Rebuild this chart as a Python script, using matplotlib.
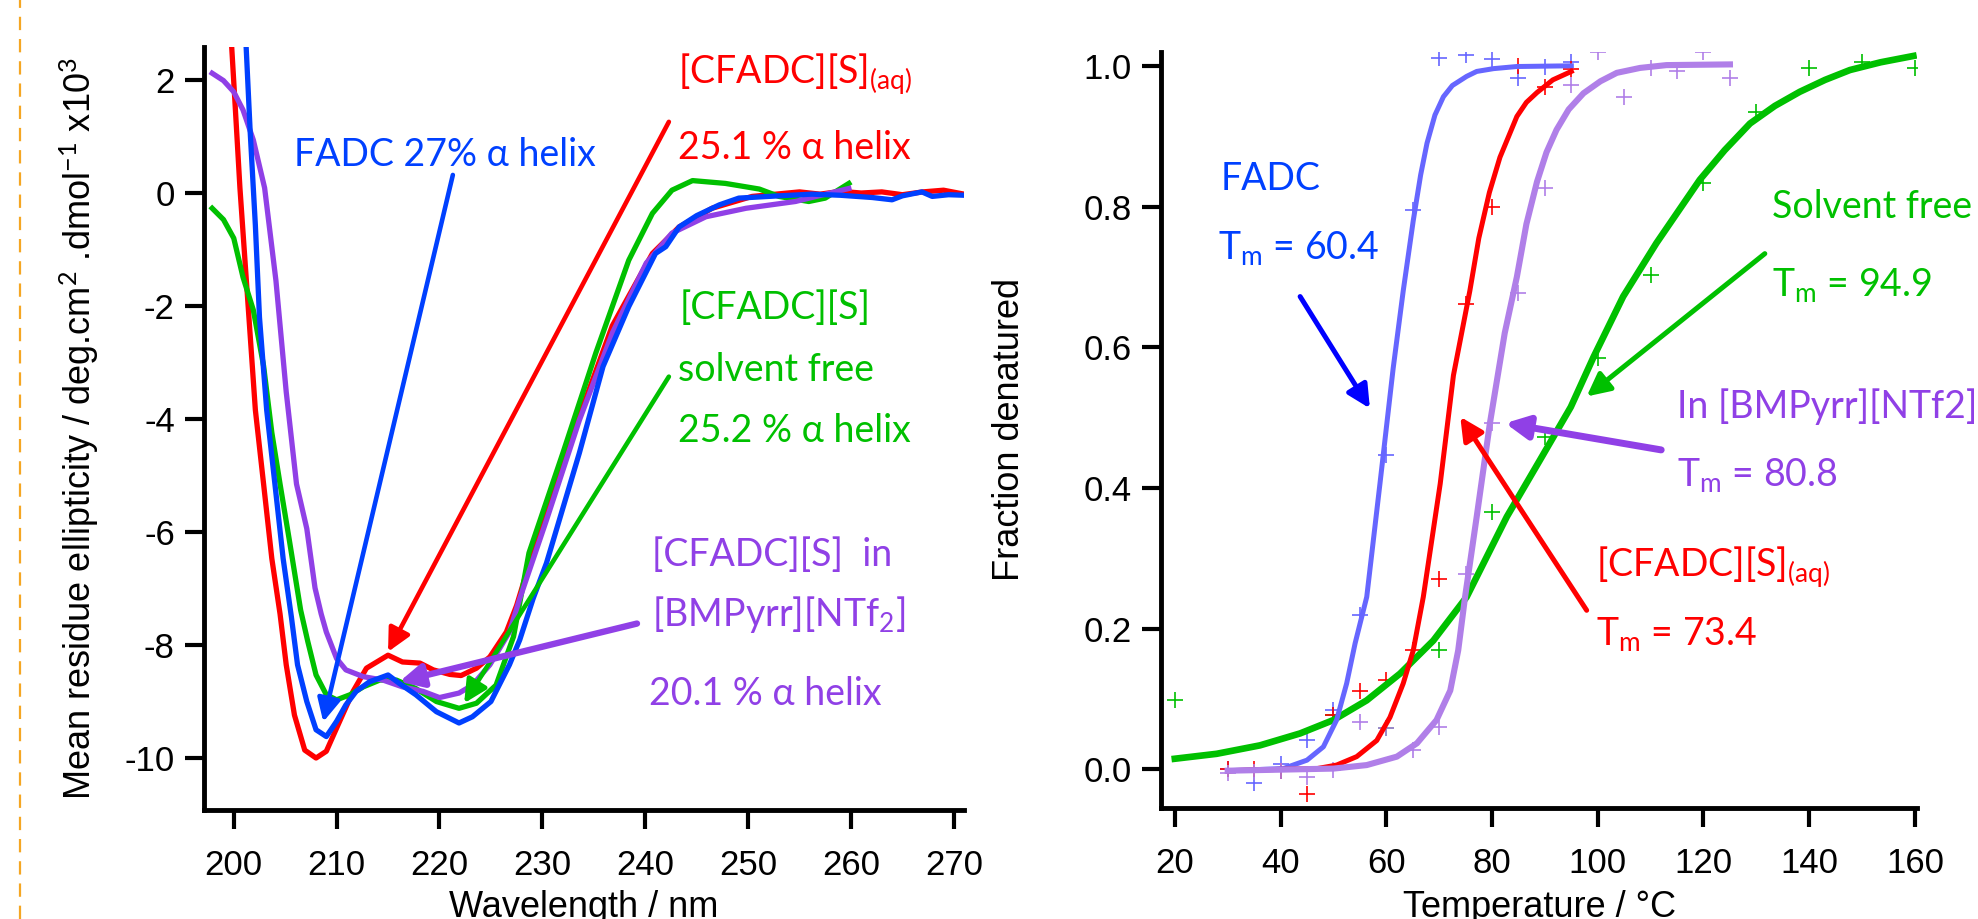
import matplotlib
matplotlib.use("Agg")
from matplotlib import pyplot as plt
from matplotlib.lines import Line2D

plt.rcParams['font.family'] = ['Liberation Sans', 'DejaVu Sans']
plt.rcParams['axes.unicode_minus'] = False
plt.rcParams['mathtext.fontset'] = 'custom'
plt.rcParams['mathtext.rm'] = 'Lato'
plt.rcParams['mathtext.it'] = 'Lato:italic'
plt.rcParams['mathtext.bf'] = 'Lato:bold'

# ---- CD spectra (left) : wavelength / nm , ellipticity x10^3 ----
wl_red = [199.6, 200.1, 200.6, 201.1, 201.6, 202.1, 202.9, 203.7, 204.5, 205.1, 205.9, 206.9,
          208.0, 209.0, 210.0, 211.6, 212.9, 215.0, 216.4, 218.1, 219.4, 221.0, 222.1, 223.6,
          224.9, 226.5, 227.5, 228.5, 230.4, 233.6, 236.8, 240.7, 243.3, 246.5, 250.4, 255.0,
          257.0, 259.0, 261.0, 263.0, 265.0, 267.0, 269.0, 271.0]
cd_red = [3.2, 1.66, 0.09, -1.22, -2.53, -3.84, -5.15, -6.47, -7.45, -8.35, -9.24, -9.86,
          -10.0, -9.88, -9.47, -8.82, -8.41, -8.18, -8.30, -8.32, -8.44, -8.52, -8.54, -8.41,
          -8.21, -7.77, -7.30, -6.70, -5.70, -3.95, -2.35, -1.07, -0.60, -0.27, -0.06, 0.02,
          -0.02, 0.03, 0.0, 0.02, -0.03, 0.02, 0.05, -0.02]

wl_blue = [201.0, 201.2, 201.6, 202.1, 202.5, 203.2, 204.0, 204.8, 205.6, 206.2, 207.1, 208.0,
           209.0, 210.0, 210.9, 211.9, 213.2, 215.0, 216.1, 217.7, 219.7, 221.9, 223.2, 225.0,
           226.8, 227.8, 229.1, 230.4, 233.6, 235.9, 238.4, 241.0, 242.0, 243.3, 245.0, 247.2,
           249.1, 253.0, 256.2, 259.0, 262.1, 264.0, 265.0, 266.9, 267.9, 269.5, 271.1]
cd_blue = [3.6, 2.6, 1.07, -0.57, -2.2, -3.84, -5.15, -6.47, -7.5, -8.35, -9.0, -9.5,
           -9.62, -9.35, -9.06, -8.82, -8.65, -8.53, -8.68, -8.88, -9.18, -9.38, -9.27, -9.0,
           -8.35, -7.91, -7.18, -6.55, -4.6, -3.07, -2.01, -1.07, -0.95, -0.6, -0.4, -0.21,
           -0.09, -0.05, -0.02, -0.04, -0.08, -0.12, -0.05, 0.02, -0.06, -0.03, -0.04]

wl_green = [197.9, 199.0, 200.0, 200.9, 201.9, 202.9, 203.7, 204.5, 205.4, 206.5, 207.2, 208.0,
            209.0, 210.0, 211.3, 212.6, 214.2, 215.8, 217.7, 219.7, 221.9, 223.6, 225.5, 227.2,
            228.7, 232.0, 235.2, 238.4, 240.7, 242.6, 244.6, 247.8, 251.1, 253.0, 255.9, 257.5,
            259.8]
cd_green = [-0.27, -0.47, -0.80, -1.49, -2.07, -3.06, -4.24, -5.15, -6.14, -7.38, -7.94, -8.53,
            -8.88, -8.97, -8.88, -8.74, -8.62, -8.62, -8.77, -9.00, -9.12, -9.03, -8.71, -7.85,
            -6.37, -4.6, -2.83, -1.19, -0.36, 0.05, 0.22, 0.17, 0.07, -0.06, -0.15, -0.09,
            0.17]

wl_purple = [197.9, 199.0, 200.0, 200.9, 201.9, 203.0, 204.1, 205.1, 206.1, 207.1, 207.9, 208.5,
             209.0, 210.0, 210.9, 212.6, 214.5, 216.4, 218.4, 220.0, 221.9, 223.2, 224.9, 226.8,
             227.8, 230.4, 233.6, 236.8, 240.1, 242.6, 245.9, 249.8, 254.6, 259.8]
cd_purple = [2.12, 1.99, 1.79, 1.47, 0.94, 0.09, -1.55, -3.52, -5.15, -5.94, -6.99, -7.45,
             -7.77, -8.24, -8.44, -8.56, -8.62, -8.74, -8.82, -8.93, -8.85, -8.71, -8.35, -7.77,
             -7.18, -5.79, -4.02, -2.48, -1.24, -0.71, -0.42, -0.27, -0.15, 0.08]

# ---- thermal denaturation (right) : measured points ----
t_blue = [30, 35, 40, 45, 50, 55, 60, 65, 70, 75, 80, 85, 90, 95]
f_blue = [0.001, -0.02, 0.008, 0.041, 0.084, 0.22, 0.447, 0.795, 1.011, 1.016, 1.009, 0.982, 0.999, 1.005]
t_red = [30, 35, 40, 45, 50, 55, 60, 65, 70, 75, 80, 85, 90, 95]
f_red = [0.0, 0.0, -0.002, -0.035, 0.077, 0.112, 0.127, 0.169, 0.271, 0.662, 0.80, 1.0, 0.97, 0.995]
t_purple = [30, 35, 40, 45, 50, 55, 60, 65, 70, 75, 80, 85, 90, 95, 100, 105, 110, 115, 120, 125]
f_purple = [-0.005, -0.004, -0.003, -0.011, -0.001, 0.067, 0.058, 0.027, 0.06, 0.278, 0.492, 0.677,
            0.826, 0.973, 1.02, 0.956, 0.997, 0.992, 1.02, 0.982]
t_green = [20, 40, 50, 60, 70, 80, 90, 100, 110, 120, 130, 140, 150, 160]
f_green = [0.098, -0.003, 0.077, 0.058, 0.169, 0.366, 0.473, 0.584, 0.703, 0.833, 0.935, 0.997, 1.006, 0.997]

# fitted curves
fit_t_blue = [30, 40.5, 45, 48.1, 50.6, 52.5, 54.1, 56.3, 58.8, 61.3, 63.2, 65.1, 66.5, 67.7,
              69.2, 70.8, 72.5, 75.2, 77.1, 80.3, 84.7, 95.0]
fit_f_blue = [-0.002, 0.001, 0.013, 0.032, 0.07, 0.122, 0.179, 0.245, 0.406, 0.57, 0.68, 0.78,
              0.845, 0.89, 0.93, 0.956, 0.972, 0.985, 0.992, 0.996, 0.999, 1.0]
fit_t_red = [30, 40.5, 46.9, 50.6, 54.4, 58.2, 60.7, 63.2, 65.1, 67.0, 70.2, 72.7, 75.8, 77.5,
             79.5, 81.5, 84.7, 86.5, 88.5, 91.5, 95.0]
fit_f_red = [-0.002, 0.0, 0.001, 0.006, 0.018, 0.041, 0.074, 0.122, 0.169, 0.245, 0.406, 0.56,
             0.68, 0.755, 0.82, 0.87, 0.928, 0.948, 0.962, 0.98, 0.992]
fit_t_purple = [30, 50, 56.3, 62.0, 65.8, 69.5, 72.1, 73.6, 74.9, 77.1, 79.6, 82.4, 84.7, 86.5,
                88.5, 90.3, 92.2, 94.5, 97.3, 100.5, 103.6, 108.0, 113.0, 125.0]
fit_f_purple = [-0.002, 0.001, 0.006, 0.018, 0.037, 0.07, 0.112, 0.169, 0.245, 0.359, 0.492, 0.62,
                0.70, 0.775, 0.835, 0.877, 0.909, 0.938, 0.961, 0.978, 0.99, 0.997, 1.001, 1.002]
fit_t_green = [20, 27.9, 36.1, 43.7, 50, 56.3, 62.6, 68.9, 75.2, 82.8, 89.1, 94.9, 99.2, 104.8,
               111.1, 119.3, 124.0, 128.8, 133.5, 138.2, 143.0, 147.7, 153.5, 159.7]
fit_f_green = [0.015, 0.022, 0.034, 0.051, 0.07, 0.098, 0.136, 0.183, 0.245, 0.359, 0.44, 0.515,
               0.586, 0.672, 0.748, 0.838, 0.88, 0.918, 0.943, 0.963, 0.98, 0.994, 1.005, 1.014]

RED = '#FF0000'
BLUE = '#0040FF'
GREEN = '#00C000'
PURPLE = '#9040E6'
LBLUE = '#6666FF'
LPURPLE = '#B07FE8'
ANN = ['Lato', 'DejaVu Sans']
FS = 27

fig = plt.figure(figsize=(19.78, 9.19), dpi=100)
ax1 = fig.add_axes([0.1031, 0.1186, 0.3843, 0.8306])
ax2 = fig.add_axes([0.587, 0.1208, 0.3822, 0.8229])

# orange dashed separator on the far left
fig.add_artist(Line2D([0.0101, 0.0101], [0, 1], transform=fig.transFigure,
                      color='#F5A623', lw=1.6, dashes=(6, 4)))

for ax in (ax1, ax2):
    for s in ('top', 'right'):
        ax.spines[s].set_visible(False)
    for s in ('left', 'bottom'):
        ax.spines[s].set_linewidth(3.5)
    ax.tick_params(axis='both', direction='out', length=14, width=3, labelsize=25)
    ax.tick_params(axis='y', pad=7)
    ax.tick_params(axis='x', pad=14)

# ---- left panel ----
lw = 3.8
ax1.plot(wl_red, cd_red, color=RED, lw=lw)
ax1.plot(wl_green, cd_green, color=GREEN, lw=lw)
ax1.plot(wl_purple, cd_purple, color=PURPLE, lw=lw)
ax1.plot(wl_blue, cd_blue, color=BLUE, lw=lw)
ax1.set_xlim(197.1, 271.0)
ax1.set_ylim(-10.92, 2.59)
ax1.set_xticks(range(200, 271, 10))
ax1.set_yticks([2, 0, -2, -4, -6, -8, -10])
ax1.set_xlabel('Wavelength / nm', fontsize=26)
ax1.set_ylabel(r'Mean residue ellipticity / deg.cm$^{2}$ .dmol$^{-1}$ x10$^{3}$', fontsize=26)
ax1.xaxis.set_label_coords(0.5, -0.105)
ax1.yaxis.set_label_coords(-0.135, 0.5)

def arrow(ax, tip, start, color, lw=3.3, ms=23):
    ax.annotate('', xy=tip, xytext=start,
                arrowprops=dict(arrowstyle='-|>,head_length=0.6,head_width=0.3', color=color,
                                lw=lw, mutation_scale=ms, shrinkA=0, shrinkB=0))

arrow(ax1, (208.7, -9.36), (221.3, 0.32), BLUE)
arrow(ax1, (215.0, -8.12), (242.3, 1.26), RED)
arrow(ax1, (222.4, -9.03), (242.3, -3.25), GREEN)
arrow(ax1, (216.1, -8.65), (239.2, -7.62), PURPLE, lw=4.6)

ax1.text(205.9, 0.68, 'FADC 27% α helix', color=BLUE, fontsize=FS, family=ANN, va='center')
ax1.text(243.2, 1.93, r'[CFADC][S]$_\mathrm{(aq)}$', color=RED, fontsize=FS, family=ANN, va='baseline')
ax1.text(243.2, 0.60, '25.1 % α helix', color=RED, fontsize=FS, family=ANN, va='baseline')
ax1.text(243.3, -2.23, '[CFADC][S]', color=GREEN, fontsize=FS, family=ANN, va='baseline')
ax1.text(243.2, -3.32, 'solvent free', color=GREEN, fontsize=FS, family=ANN, va='baseline')
ax1.text(243.2, -4.41, '25.2 % α helix', color=GREEN, fontsize=FS, family=ANN, va='baseline')
ax1.text(240.7, -6.60, '[CFADC][S]  in', color=PURPLE, fontsize=FS, family=ANN, va='baseline')
ax1.text(240.7, -7.66, r'[BMPyrr][NTf$_\mathrm{2}$]', color=PURPLE, fontsize=FS, family=ANN, va='baseline')
ax1.text(240.4, -9.07, '20.1 % α helix', color=PURPLE, fontsize=FS, family=ANN, va='baseline')

# ---- right panel ----
mk = dict(ls='none', marker='+', markersize=12, mew=1.2)
ax2.plot(t_green, f_green, color=GREEN, **mk)
ax2.plot(t_blue, f_blue, color=LBLUE, **mk)
ax2.plot(t_red, f_red, color=RED, **mk)
ax2.plot(t_purple, f_purple, color=LPURPLE, **mk)
ax2.plot(fit_t_green, fit_f_green, color=GREEN, lw=4.8)
ax2.plot(fit_t_blue, fit_f_blue, color=LBLUE, lw=3.6)
ax2.plot(fit_t_red, fit_f_red, color=RED, lw=3.6)
ax2.plot(fit_t_purple, fit_f_purple, color=LPURPLE, lw=4.4)
ax2.set_xlim(17.4, 160.4)
ax2.set_ylim(-0.055, 1.02)
ax2.set_xticks(range(20, 161, 20))
ax2.set_yticks([0.0, 0.2, 0.4, 0.6, 0.8, 1.0])
ax2.set_yticklabels(['0.0', '0.2', '0.4', '0.6', '0.8', '1.0'])
ax2.set_xlabel('Temperature / °C', fontsize=26)
ax2.set_ylabel('Fraction denatured', fontsize=26)
ax2.xaxis.set_label_coords(0.5, -0.108)
ax2.yaxis.set_label_coords(-0.177, 0.5)

arrow(ax2, (56.9, 0.513), (43.7, 0.672), '#0000FF', lw=3.6)
arrow(ax2, (97.9, 0.530), (131.6, 0.733), GREEN, lw=3.6)
arrow(ax2, (82.5, 0.492), (112.0, 0.454), PURPLE, lw=5.0)
arrow(ax2, (74.0, 0.501), (97.9, 0.226), RED, lw=3.6)

ax2.text(28.6, 0.823, 'FADC', color=BLUE, fontsize=FS, family=ANN, va='baseline')
ax2.text(28.2, 0.725, r'T$_\mathrm{m}$ = 60.4', color=BLUE, fontsize=FS, family=ANN, va='baseline')
ax2.text(132.9, 0.783, 'Solvent free', color=GREEN, fontsize=FS, family=ANN, va='baseline')
ax2.text(132.9, 0.673, r'T$_\mathrm{m}$ = 94.9', color=GREEN, fontsize=FS, family=ANN, va='baseline')
ax2.text(114.9, 0.499, 'In [BMPyrr][NTf2]', color=PURPLE, fontsize=FS, family=ANN, va='baseline')
ax2.text(114.9, 0.402, r'T$_\mathrm{m}$ = 80.8', color=PURPLE, fontsize=FS, family=ANN, va='baseline')
ax2.text(99.7, 0.274, r'[CFADC][S]$_\mathrm{(aq)}$', color=RED, fontsize=FS, family=ANN, va='baseline')
ax2.text(99.6, 0.176, r'T$_\mathrm{m}$ = 73.4', color=RED, fontsize=FS, family=ANN, va='baseline')

fig.savefig('out.png', dpi=100)
